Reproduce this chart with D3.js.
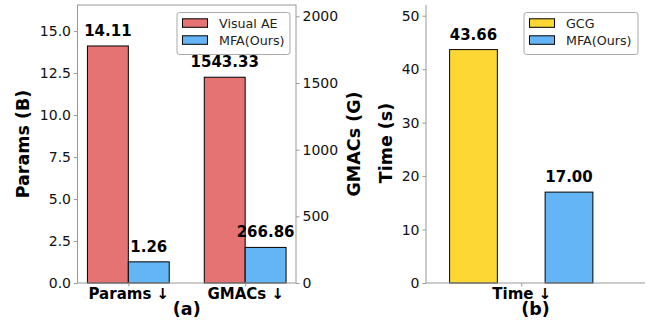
<!DOCTYPE html>
<html><head><meta charset="utf-8">
<script src="https://cdn.jsdelivr.net/npm/d3@7"></script>
<style>body{margin:0;background:#fff}svg{display:block;font-family:"DejaVu Sans",sans-serif}</style>
</head><body><svg id="c" width="648" height="323"></svg>
<script>
// ---- data ----
const groupsA = ["Params ↓", "GMACs ↓"];
const seriesA = ["Visual AE", "MFA(Ours)"];
const paramsVals = [14.11, 1.26];      // Params (B)
const gmacsVals = [1543.33, 266.86];   // GMACs (G)
const paramsTicks = [0, 2.5, 5, 7.5, 10, 12.5, 15];
const gmacsTicks = [0, 500, 1000, 1500, 2000];
const groupsB = ["Time ↓"];
const seriesB = ["GCG", "MFA(Ours)"];
const timeVals = [43.66, 17.00];
const timeTicks = [0, 10, 20, 30, 40, 50];
const colorsA = ["#E57373", "#64B5F6"];
const colorsB = ["#FDD835", "#64B5F6"];

const svg = d3.select("#c");
const spine = "#999";
const yTop = 5, yBot = 283;

// ---- panel (a) ----
const ax = {l: 77.5, r: 296};
const xA = d3.scaleLinear().domain([-0.435, 1.435]).range([ax.l, ax.r]);
const yP = d3.scaleLinear().domain([0, 16.55]).range([yBot, yTop]);
const yG = d3.scaleLinear().domain([0, 2085]).range([yBot, yTop]);
const bw = 0.35;
const gA = svg.append("g");

function drawBar(g, x, w, y, v, color) {
  g.append("rect").attr("x", x).attr("width", w).attr("y", y(v)).attr("height", y(0) - y(v))
    .attr("fill", color).attr("stroke", "#000").attr("stroke-width", 1);
}
function drawVal(g, cx, y, v, txt) {
  g.append("text").attr("x", cx).attr("y", y(v) - 10).attr("text-anchor", "middle")
    .attr("font-weight", "bold").attr("font-size", 15).attr("fill", "#000").text(txt);
}
const valsByGroup = [paramsVals, gmacsVals];
const scaleByGroup = [yP, yG];
groupsA.forEach((gname, gi) => {
  seriesA.forEach((s, si) => {
    const v = valsByGroup[gi][si];
    const y = scaleByGroup[gi];
    const x0 = xA(gi + (si === 0 ? -bw : 0));
    const x1 = xA(gi + (si === 0 ? 0 : bw));
    drawBar(gA, x0, x1 - x0, y, v, colorsA[si]);
    drawVal(gA, (x0 + x1) / 2, y, v, v.toFixed(2));
  });
});
gA.append("rect").attr("x", ax.l).attr("y", yTop).attr("width", ax.r - ax.l).attr("height", yBot - yTop)
  .attr("fill", "none").attr("stroke", spine).attr("stroke-width", 1);

function styleAxis(g, fontSize, weight) {
  g.select(".domain").remove();
  g.selectAll(".tick line").attr("stroke", spine);
  g.selectAll(".tick text").attr("font-size", fontSize).attr("fill", "#111")
    .attr("font-family", "DejaVu Sans").attr("font-weight", weight || "normal");
}
const lAx = gA.append("g").attr("transform", `translate(${ax.l},0)`)
  .call(d3.axisLeft(yP).tickValues(paramsTicks).tickFormat(d3.format(".1f")).tickSizeOuter(0).tickSize(3.5).tickPadding(3));
styleAxis(lAx, 14);
const rAx = gA.append("g").attr("transform", `translate(${ax.r},0)`)
  .call(d3.axisRight(yG).tickValues(gmacsTicks).tickFormat(d3.format("d")).tickSizeOuter(0).tickSize(3.5).tickPadding(3));
styleAxis(rAx, 14);
const bAx = gA.append("g").attr("transform", `translate(0,${yBot})`)
  .call(d3.axisBottom(xA).tickValues([0, 1]).tickFormat((d, i) => groupsA[i]).tickSizeOuter(0).tickSize(3.5).tickPadding(1.5));
styleAxis(bAx, 15, "bold");
bAx.selectAll(".tick text").attr("fill", "#000");

function label(g, x, y, txt, size, rot) {
  const t = g.append("text").attr("text-anchor", "middle").attr("font-weight", "bold")
    .attr("font-size", size).attr("fill", "#000").text(txt);
  if (rot) t.attr("transform", `translate(${x},${y}) rotate(-90)`);
  else t.attr("x", x).attr("y", y);
}
label(gA, 29, 144, "Params (B)", 17.5, true);
label(gA, 359.5, 144, "GMACs (G)", 17.5, true);
label(gA, (ax.l + ax.r) / 2, 315, "(a)", 17.5, false);

function legend(g, x0, y0, w, h, names, colors) {
  g.append("rect").attr("x", x0).attr("y", y0).attr("width", w).attr("height", h)
    .attr("rx", 2.5).attr("fill", "#fff").attr("fill-opacity", 0.85).attr("stroke", "#aaa").attr("stroke-width", 1);
  names.forEach((n, i) => {
    const cy = y0 + 10.5 + i * 17;
    g.append("rect").attr("x", x0 + 5.5).attr("y", cy - 4.2).attr("width", 25).attr("height", 8.5)
      .attr("fill", colors[i]).attr("stroke", "#000").attr("stroke-width", 1);
    g.append("text").attr("x", x0 + 42).attr("y", cy + 4.5).attr("font-size", 12.7).attr("fill", "#222").text(n);
  });
}
legend(gA, 177, 12.5, 113, 42, seriesA, colorsA);

// ---- panel (b) ----
const bx = {l: 426, r: 645};
const xB = d3.scaleLinear().domain([-0.698, 0.907]).range([bx.l, bx.r]);
const yT = d3.scaleLinear().domain([0, 52]).range([yBot, yTop]);
const gB = svg.append("g");
seriesB.forEach((s, si) => {
  const v = timeVals[si];
  const c = si === 0 ? -0.35 : 0.35;
  const x0 = xB(c - bw / 2), x1 = xB(c + bw / 2);
  drawBar(gB, x0, x1 - x0, yT, v, colorsB[si]);
  drawVal(gB, (x0 + x1) / 2, yT, v, v.toFixed(2));
});
gB.append("line").attr("x1", bx.l).attr("x2", bx.l).attr("y1", yTop).attr("y2", yBot).attr("stroke", spine);
gB.append("line").attr("x1", bx.l).attr("x2", bx.r).attr("y1", yBot).attr("y2", yBot).attr("stroke", spine);
const tAx = gB.append("g").attr("transform", `translate(${bx.l},0)`)
  .call(d3.axisLeft(yT).tickValues(timeTicks).tickFormat(d3.format("d")).tickSizeOuter(0).tickSize(3.5).tickPadding(3));
styleAxis(tAx, 14);
const tbAx = gB.append("g").attr("transform", `translate(0,${yBot})`)
  .call(d3.axisBottom(xB).tickValues([0]).tickFormat((d, i) => groupsB[i]).tickSizeOuter(0).tickSize(3.5).tickPadding(1.5));
styleAxis(tbAx, 15, "bold");
tbAx.selectAll(".tick text").attr("fill", "#000");
label(gB, 392, 143, "Time (s)", 17.5, true);
label(gB, (bx.l + bx.r) / 2, 315, "(b)", 17.5, false);
legend(gB, 524, 12.5, 114, 42, seriesB, colorsB);
</script></body></html>
